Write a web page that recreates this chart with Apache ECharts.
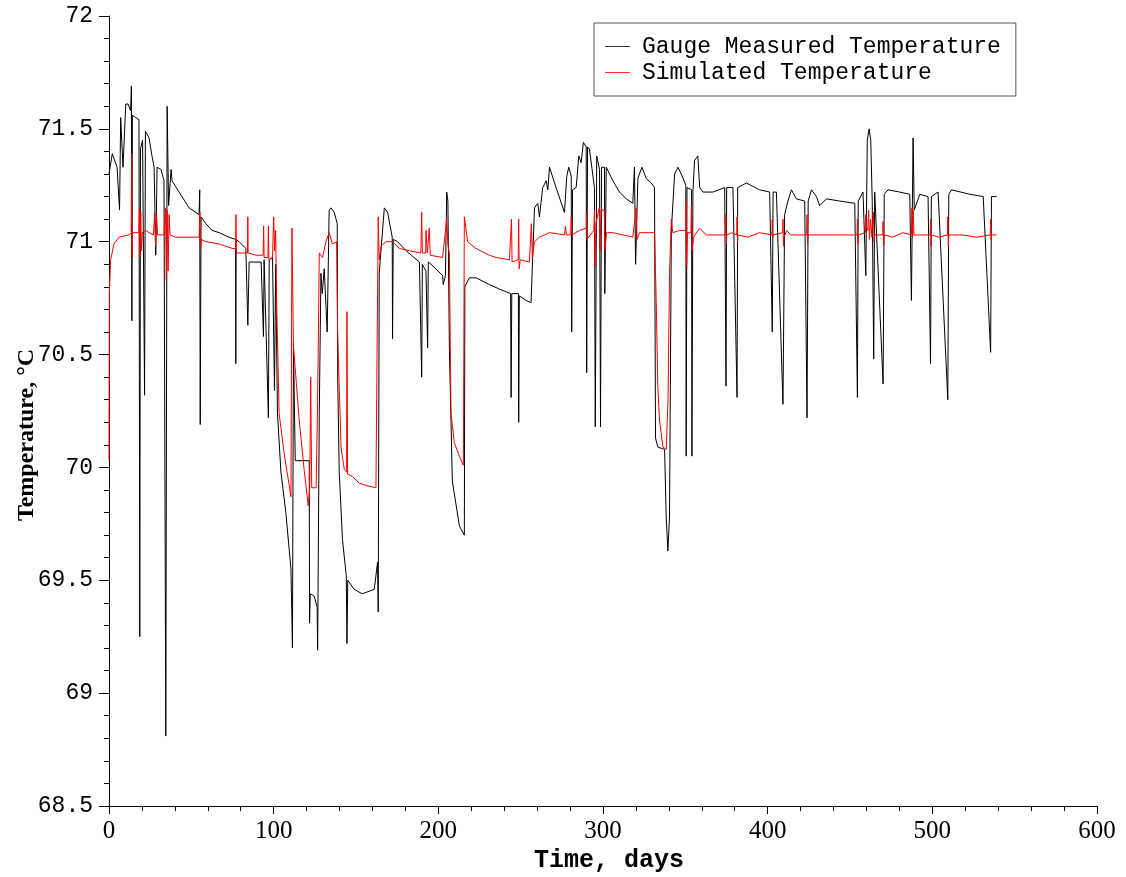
<!DOCTYPE html>
<html>
<head>
<meta charset="utf-8">
<script src="https://cdn.jsdelivr.net/npm/echarts@6/dist/echarts.min.js"></script>
<style>
html,body{margin:0;padding:0;background:#fff;}
#chart{width:1126px;height:877px;}
</style>
</head>
<body>
<div id="chart"></div>
<script>
// ---- data (days, °C) ----
const seriesNames = ['Gauge Measured Temperature', 'Simulated Temperature'];
const xTicks = [0, 100, 200, 300, 400, 500, 600];
const yTicks = [68.5, 69, 69.5, 70, 70.5, 71, 71.5, 72];

const gaugeData = [
[0,71.30],[2.0,71.39],[4.9,71.33],[6.4,71.14],[7.1,71.55],[8.5,71.33],[10.2,71.61],[11.6,71.61],[13.1,71.58],[13.6,71.69],[13.9,70.65],[14.2,71.56],[16.2,71.55],[18.2,71.54],[18.7,69.25],[19.1,71.41],[20.4,71.45],[21.6,70.32],[22.1,71.49],[24.3,71.46],[26.1,71.38],[27.4,71.33],[28.4,70.94],[29.2,71.33],[31.6,71.32],[33.4,71.27],[34.5,68.81],[35.3,71.60],[36.2,71.16],[37.7,71.32],[38.3,71.27],[42.6,71.22],[48.6,71.15],[54.7,71.12],[55.1,71.23],[55.4,70.19],[55.9,71.11],[58.8,71.08],[62.6,71.05],[66.9,71.04],[72.9,71.02],[76.9,71.01],[77.0,70.46],[77.2,71.01],[79.0,71.00],[83.1,70.97],[84.3,70.63],[85.1,70.91],[92.4,70.91],[93.8,70.58],[94.2,70.92],[96.8,70.22],[97.3,70.92],[99.3,70.93],[100.5,70.34],[101.2,70.90],
[102.3,70.24],[104.4,69.98],[107.4,69.80],[110.5,69.55],[111.4,69.20],[112.0,70.55],[113.1,70.03],[121.6,70.03],[121.8,69.31],[122.2,69.44],[124.6,69.43],[126.4,69.38],[126.7,69.19],[127.7,70.24],[128.7,70.86],[129.5,70.77],[130.7,70.88],[132.5,70.60],[133.7,71.14],[134.8,71.15],[136.8,71.13],[138.6,71.08],[138.9,70.39],[139.8,69.98],[141.8,69.68],[144.1,69.52],[144.5,69.22],[145.0,69.50],[148.9,69.46],[153.8,69.44],[161.1,69.46],[163.1,69.58],[163.5,69.36],[164.1,70.86],[167.2,71.15],[169.2,71.13],[172.0,71.02],[172.2,70.57],[172.6,71.01],[175.3,71.00],[180.4,70.96],[188.5,70.91],[189.9,70.40],[190.3,70.90],[192.5,70.87],[193.5,70.53],[193.9,70.91],[195.6,70.90],[202.6,70.85],[203.0,70.81],[204.3,70.85],[205.1,71.22],[205.8,71.18],[206.7,70.53],[208.5,69.94],[212.8,69.74],[215.8,69.70],[216.1,70.80],[218.8,70.84],[222.9,70.84],[231.0,70.81],[237.1,70.79],[243.9,70.77],[244.2,70.31],[244.6,70.77],[248.6,70.77],[248.8,70.20],[249.2,70.76],[253.3,70.74],[256.3,70.73],
[258.4,71.15],[260.4,71.17],[261.4,71.11],[263.4,71.24],[265.5,71.27],[266.5,71.23],[267.5,71.33],[271.5,71.24],[276.6,71.13],[278.0,71.29],[279.2,71.33],[280.7,71.29],[281.0,70.60],[281.5,71.23],[283.7,71.24],[285.3,71.38],[286.7,71.35],[288.1,71.44],[289.8,71.42],[290.1,70.42],[290.6,71.42],[291.8,71.41],[294.8,71.24],[295.3,70.18],[296.2,71.38],[297.9,71.32],[298.5,70.18],[299.1,71.33],[300.9,71.33],[301.1,70.77],[302.0,71.33],[306.0,71.27],[310.0,71.22],[314.1,71.19],[318.1,71.17],[319.1,71.33],[319.8,70.90],[321.2,71.28],[323.6,71.33],[326.3,71.28],[329.3,71.26],[331.3,71.24],[331.9,70.13],[333.3,70.09],[337.4,70.08],[338.4,69.78],[339.4,69.63],[340.4,69.78],[341.5,71.05],[343.5,71.30],[345.5,71.33],[347.5,71.30],[350.3,71.25],[350.5,70.05],[351.0,71.24],[353.8,71.23],[354.0,70.05],[354.6,71.22],[355.6,71.36],[357.6,71.38],[358.7,71.24],[360.7,71.22],[366.8,71.22],[373.9,71.24],[374.7,70.36],[375.1,71.24],[378.9,71.24],[381.4,70.31],[381.8,71.24],[387.1,71.26],[395.1,71.23],[401.2,71.22],[402.8,70.60],[403.3,71.22],[405.3,71.22],[409.3,70.28],[410.3,71.12],[412.3,71.18],[414.4,71.23],[417.4,71.19],[422.5,71.18],[423.9,70.22],[424.6,71.18],[426.6,71.23],[429.6,71.20],[431.6,71.16],[435.7,71.19],[443.8,71.18],[452.9,71.17],[454.5,70.31],[455.0,71.18],[457.9,71.22],[459.6,70.85],[460.5,71.45],[461.6,71.50],[462.6,71.45],[463.5,71.18],[464.4,70.48],[465.0,71.22],[466.1,71.22],[470.1,70.37],[470.8,71.21],[473.1,71.23],[480.2,71.22],[486.3,71.21],[487.3,70.74],[488.3,71.46],[489.0,71.14],[492.4,71.21],[497.4,71.20],[498.9,70.46],[499.4,71.20],[503.5,71.22],[509.4,70.30],[510.0,71.21],[511.7,71.23],[522.8,71.21],[530.9,71.20],[535.4,70.51],[535.9,71.20],[539.0,71.20]
];

const simulatedData = [
[0,70.03],[0.2,70.77],[1.0,70.92],[3.0,70.99],[6.1,71.02],[12.2,71.03],
[13.5,71.04],[13.7,71.39],[14.0,70.93],[14.3,71.04],[18.2,71.04],
[18.5,71.15],[18.8,70.93],[19.3,71.13],[19.7,70.96],[20.2,71.04],[22.3,71.05],[24.3,71.04],
[27.0,71.03],[27.7,71.13],[28.3,70.98],[28.9,71.12],[29.5,71.03],[33.4,71.03],
[34.3,71.15],[34.8,70.83],[35.3,71.14],[35.9,70.87],[36.5,71.12],[37.1,71.03],[40.5,71.02],[48.6,71.02],[54.7,71.02],
[55.2,71.13],[55.6,70.97],[56.2,71.01],[58.8,71.00],[66.9,70.99],[75.0,70.97],
[76.9,70.97],[77.1,71.12],[77.3,70.95],[84.1,70.95],[84.3,71.11],[84.5,70.95],[89.2,70.94],
[93.6,70.94],[93.9,71.07],[94.2,70.93],[96.5,70.93],[96.8,71.07],[97.1,70.92],[99.3,70.93],[100.0,71.11],[100.6,70.96],[101.2,71.05],[101.8,70.74],
[103.3,70.24],[106.4,70.06],[110.5,69.87],[111.1,71.06],[112.0,70.54],[115.5,70.21],[118.5,69.99],[121.0,69.83],[121.9,69.91],[122.5,70.40],[123.1,69.91],[125.8,69.91],
[126.6,70.25],[127.2,70.60],[127.7,70.95],[129.7,70.93],[131.7,71.00],[133.7,71.04],[135.7,70.99],[138.2,71.00],
[138.8,70.61],[140.9,70.09],[142.9,69.99],[144.3,69.98],[144.5,70.69],[144.9,69.97],[147.9,69.96],[152.0,69.93],[156.1,69.92],[162.1,69.91],[163.2,69.91],
[163.5,71.11],[164.1,70.92],[165.2,70.98],[168.2,71.00],[172.2,71.00],[176.3,70.97],[182.4,70.96],
[189.4,70.95],[189.9,71.13],[190.3,70.95],[192.3,70.95],[192.5,71.05],[193.3,70.95],[194.5,71.06],[195.1,70.94],[202.6,70.93],
[205.1,71.10],[205.8,70.99],[206.7,70.95],[207.7,70.24],[209.7,70.11],[212.8,70.05],[215.2,70.01],[215.8,71.11],[217.8,71.00],[222.9,70.97],[231.0,70.94],[235.1,70.93],[243.2,70.92],
[244.4,71.10],[244.8,70.91],[248.5,70.92],[248.8,71.10],[249.1,70.88],[249.8,70.92],[255.3,70.91],[256.5,71.08],[257.1,70.93],[258.4,71.00],[261.4,71.02],[267.5,71.04],
[276.6,71.03],[277.2,71.07],[277.8,71.03],[280.4,71.03],[280.7,71.11],[281.1,71.03],[285.7,71.05],[289.8,71.06],[289.9,71.13],[290.2,71.01],
[294.4,71.05],[294.8,71.14],[295.1,70.89],[295.7,71.08],[297.7,71.15],[298.2,70.96],[298.8,71.14],[300.8,71.14],[301.2,70.96],[302.1,71.04],
[306.0,71.04],[312.1,71.03],[318.1,71.02],[320.1,71.15],[320.7,71.01],[322.2,71.04],[331.3,71.04],
[332.3,70.74],[333.3,70.36],[334.3,70.21],[336.4,70.09],[338.4,70.08],[339.5,70.30],[340.4,70.86],[341.5,71.10],[342.4,71.04],[346.5,71.05],
[350.3,71.05],[350.5,71.18],[350.8,70.89],[351.3,71.04],[353.4,71.04],[353.7,71.16],[354.1,70.96],[355.0,71.02],[358.7,71.06],[362.7,71.03],[370.8,71.03],
[374.4,71.03],[374.6,71.12],[374.9,70.99],[375.2,71.03],[378.0,71.04],
[381.2,71.03],[381.4,71.11],[381.7,71.00],[382.0,71.03],[388.0,71.02],[395.0,71.04],
[402.6,71.03],[402.8,71.10],[403.1,71.02],[403.4,71.03],
[409.1,71.04],[409.3,71.10],[409.6,70.98],[410.0,71.02],[411.5,71.05],[414.0,71.03],
[423.7,71.03],[423.9,71.12],[424.2,70.99],[424.5,71.03],[435.0,71.03],[445.0,71.03],
[454.3,71.03],[454.5,71.10],[454.8,70.99],[455.1,71.03],
[459.4,71.04],[459.6,71.12],[459.9,71.06],[460.8,71.05],[461.3,71.14],[461.8,71.01],[462.5,71.10],[463.3,71.02],[464.2,71.13],[464.6,71.00],[465.0,71.03],
[469.9,71.03],[470.1,71.09],[470.4,70.98],[470.7,71.03],[476.0,71.02],[482.0,71.04],
[487.3,71.03],[487.6,71.15],[488.0,71.02],[488.4,71.14],[488.8,71.03],[493.0,71.03],
[498.7,71.03],[498.9,71.10],[499.2,70.98],[499.5,71.03],[504.0,71.02],
[509.2,71.03],[509.4,71.11],[509.7,70.98],[510.0,71.03],[518.0,71.03],[527.0,71.02],
[535.2,71.03],[535.4,71.10],[535.7,71.01],[536.0,71.03],[539.0,71.03]
];

const chart = echarts.init(document.getElementById('chart'), null, {renderer: 'canvas'});
const axisColor = '#000';
chart.setOption({
  animation: false,
  backgroundColor: '#fff',
  grid: {left: 109, right: 29, top: 16, bottom: 71, containLabel: false, outerBoundsMode: 'none'},
  legend: {
    orient: 'vertical', left: 594, top: 23,
    padding: [12, 15, 12, 11],
    icon: 'rect', itemWidth: 25, itemHeight: 1, itemGap: 3,
    borderColor: '#555', borderWidth: 1,
    textStyle: {fontFamily: 'Liberation Mono', fontSize: 23, color: '#000', padding: [0, 0, 0, 7]},
    data: seriesNames
  },
  xAxis: {
    type: 'value', min: xTicks[0], max: xTicks[xTicks.length - 1], interval: 100,
    name: 'Time, days', nameLocation: 'middle', nameGap: 42, nameMoveOverlap: false,
    nameTextStyle: {fontFamily: 'Liberation Mono', fontWeight: 'bold', fontSize: 25, color: '#000', padding: [0, 0, 0, 12]},
    axisLine: {show: true, lineStyle: {color: axisColor, width: 1}},
    axisTick: {show: true, inside: false, length: 8, lineStyle: {color: axisColor}},
    minorTick: {show: true, splitNumber: 5, length: 5, lineStyle: {color: axisColor}},
    splitLine: {show: false},
    axisLabel: {fontFamily: 'Liberation Serif', fontSize: 25, color: '#000', margin: 13}
  },
  yAxis: {
    type: 'value', min: yTicks[0], max: yTicks[yTicks.length - 1], interval: 0.5,
    name: 'Temperature, °C', nameLocation: 'middle', nameGap: 70, nameMoveOverlap: false,
    nameTextStyle: {fontFamily: 'Liberation Serif', fontWeight: 'bold', fontSize: 24, color: '#000', padding: [0, 48, 0, 0]},
    axisLine: {show: true, lineStyle: {color: axisColor, width: 1}},
    axisTick: {show: true, inside: false, length: 10, lineStyle: {color: axisColor}},
    minorTick: {show: true, splitNumber: 5, length: 5, lineStyle: {color: axisColor}},
    splitLine: {show: false},
    axisLabel: {fontFamily: 'Liberation Mono', fontSize: 23, color: '#000', margin: 16,
      formatter: v => String(+v.toFixed(1))}
  },
  series: [
    {name: seriesNames[0], type: 'line', data: gaugeData, symbol: 'none', showSymbol: false,
     lineStyle: {color: '#000', width: 1}, itemStyle: {color: '#333'}, z: 2},
    {name: seriesNames[1], type: 'line', data: simulatedData, symbol: 'none', showSymbol: false,
     lineStyle: {color: '#ff0000', width: 1}, itemStyle: {color: '#ff3333'}, z: 3}
  ]
});
</script>
</body>
</html>
